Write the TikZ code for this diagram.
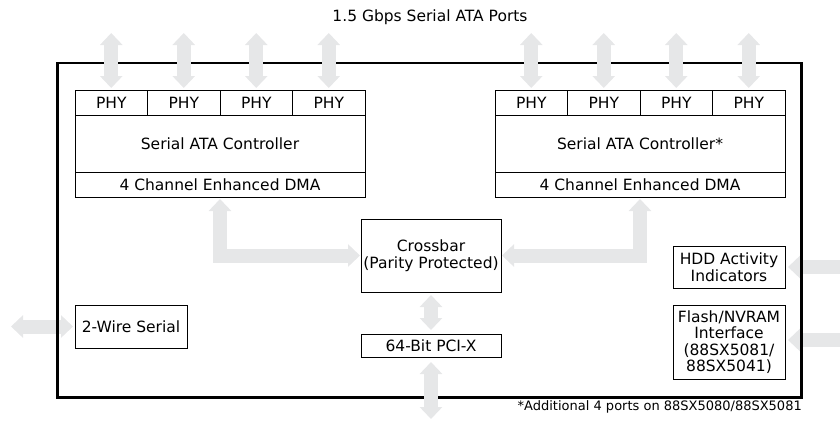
\documentclass[tikz,border=0pt]{standalone}
\usepackage{fontspec}
\setmainfont{DejaVu Sans}
\usepackage{tikz}
\usetikzlibrary{arrows.meta, positioning}
\definecolor{portgray}{RGB}{230,231,232}

\begin{document}
\begin{tikzpicture} [
        x = 1pt, y = -1pt,
        node distance = 0pt,
        block/.style = {draw, line width=0.8pt, inner sep=0pt, outer sep=0pt, align=center, font=\fontsize{15.5}{16.5}\selectfont},
        phy/.style = {block, minimum width=72.5pt, minimum height=25pt},
        ctrl/.style = {block, minimum width=290pt, minimum height=57pt, anchor=north west},
        dma/.style = {block, minimum width=290pt, minimum height=25pt},
        side/.style = {block, minimum width=112pt},
        port/.style = {draw=portgray, line width=14pt, {Triangle[width=22pt,length=12pt]}-{Triangle[width=22pt,length=12pt]}},
        portin/.style = {draw=portgray, line width=14pt, {Triangle[width=22pt,length=12pt]}-}
    ]
    \useasboundingbox (0,0) rectangle (840,424);

    \node[font=\fontsize{15.5}{17}\selectfont] (title) at (430,17) {1.5 Gbps Serial ATA Ports};

    % left controller
    \node[phy] (phyLa) at (111.25,102.5) {PHY};
    \node[phy, right=of phyLa] (phyLb) {PHY};
    \node[phy, right=of phyLb] (phyLc) {PHY};
    \node[phy, right=of phyLc] (phyLd) {PHY};
    \node[ctrl] (ctlL) at (phyLa.south west) {Serial ATA Controller};
    \node[dma, below=of ctlL] (dmaL) {4 Channel Enhanced DMA};

    % right controller
    \node[phy] (phyRa) at (531.25,102.5) {PHY};
    \node[phy, right=of phyRa] (phyRb) {PHY};
    \node[phy, right=of phyRb] (phyRc) {PHY};
    \node[phy, right=of phyRc] (phyRd) {PHY};
    \node[ctrl] (ctlR) at (phyRa.south west) {Serial ATA Controller*};
    \node[dma, below=of ctlR] (dmaR) {4 Channel Enhanced DMA};

    \node[block, minimum width=140pt, minimum height=73pt] (xbar) at (431,255.5) {Crossbar\\(Parity Protected)};
    \node[block, minimum width=140pt, minimum height=23pt, below=42pt of xbar] (pci) {64-Bit PCI-X};

    \node[side, minimum height=42pt] (hdd) at (729,267) {HDD Activity\\Indicators};
    \node[side, minimum height=74pt, below=17pt of hdd] (flash) {Flash/NVRAM\\Interface\\(88SX5081/\\88SX5041)};
    \node[side, minimum height=43pt] (wire) at (131,326.5) {2-Wire Serial};

    \node[anchor=east, inner sep=0pt, font=\fontsize{13}{15}\selectfont] (note) at (802,407) {*Additional 4 ports on 88SX5080/88SX5081};

    % side ports
    \draw[port, shorten <=2pt] (wire.west) -- ++(-64,0);
    \draw[portin, shorten <=3pt] (hdd.east) -- ++(55,0);
    \draw[portin, shorten <=3pt] ([yshift=2pt]flash.east) -- ++(55,0);

    % chip outline
    \draw[line width=2.8pt] (57.5,63) rectangle (801.5,397.5);

    % serial ATA ports
    \draw[port, shorten <=2pt] (phyLa.north) -- ++(0,-57);
    \draw[port, shorten <=2pt] (phyLb.north) -- ++(0,-57);
    \draw[port, shorten <=2pt] (phyLc.north) -- ++(0,-57);
    \draw[port, shorten <=2pt] (phyLd.north) -- ++(0,-57);
    \draw[port, shorten <=2pt] (phyRa.north) -- ++(0,-57);
    \draw[port, shorten <=2pt] (phyRb.north) -- ++(0,-57);
    \draw[port, shorten <=2pt] (phyRc.north) -- ++(0,-57);
    \draw[port, shorten <=2pt] (phyRd.north) -- ++(0,-57);

    % internal paths
    \draw[port, shorten <=2pt, shorten >=1pt] (dmaL.south) |- (xbar.west);
    \draw[port, shorten <=1pt, shorten >=2pt] (xbar.east) -| (dmaR.south);
    \draw[port, shorten <=3pt, shorten >=4pt] (xbar.south) -- (pci.north);
    \draw[port, shorten <=5pt] (pci.south) -- ++(0,62);

\end{tikzpicture}
\end{document}
